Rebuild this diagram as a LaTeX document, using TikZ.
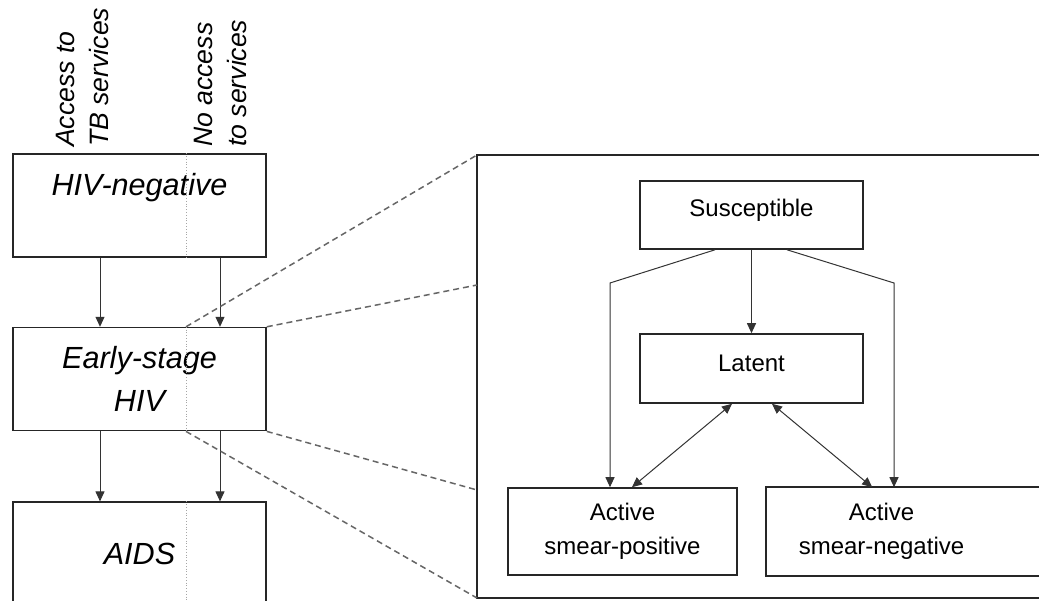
\documentclass[tikz,border=0pt]{standalone}
\usepackage{fontspec}
\setmainfont{Liberation Sans}
\usetikzlibrary{arrows.meta,calc,positioning}
\tikzstyle{stage}=[rectangle, draw=black!85, line width=1.6pt, minimum width=253pt, minimum height=103pt, inner sep=0pt, align=center, font=\fontsize{30.6}{43}\selectfont\itshape]
\tikzstyle{access}=[rotate=90, align=left, inner sep=0pt, anchor=west, font=\fontsize{26.6}{34}\selectfont\itshape]
\tikzstyle{tb}=[rectangle, draw=black!85, line width=1.6pt, inner sep=0pt, align=center, font=\fontsize{24}{34}\selectfont]
\tikzstyle{flow}=[draw=black!80, line width=1pt, ->]
\tikzstyle{divider}=[draw=gray!70, line width=0.8pt, dotted]
\tikzstyle{zoomline}=[draw=black!60, line width=1.5pt, dash pattern=on 6pt off 4pt]

\begin{document}
\begin{tikzpicture}[x=1pt, y=-1pt, >={Triangle[length=10pt,width=9pt]}]
      \useasboundingbox (0,0) rectangle (1039,601);
      %
      \coordinate (split) at (186,0);
      \coordinate (colA) at (100,0);
      \coordinate (colB) at (220,0);
      \node[access] (acc) at (82,147) {Access to\\TB services};
      \node[access] (noacc) at (220,147) {No access\\to services};
      %
      \node[stage] (hivneg) at (139.5,205.5) {HIV-negative\\~};
      \node[stage, below=69pt of hivneg] (early) {Early-stage\\HIV};
      \node[stage, below=70pt of early] (aids) {AIDS};
      \foreach \b in {hivneg,early,aids}
        \draw[divider] (\b.north -| split) -- (\b.south -| split);
      \foreach \c in {colA,colB} {
        \draw[flow] (hivneg.south -| \c) -- (early.north -| \c);
        \draw[flow] (early.south -| \c) -- (aids.north -| \c);
      }
      %
      \coordinate (zoomtl) at (477,155);
      \coordinate (zoomup) at (477,285);
      \coordinate (zoomdown) at (477,490);
      \coordinate (zoombl) at (477,598);
      \coordinate (zoombr) at (1070,598);
      \draw[black!85, line width=1.6pt] (zoomtl) rectangle (zoombr);
      \draw[zoomline] (early.north -| split) -- (zoomtl);
      \draw[zoomline] (early.north east) -- (zoomup);
      \draw[zoomline] (early.south east) -- (zoomdown);
      \draw[zoomline] (early.south -| split) -- (zoombl);
      %
      \node[tb, minimum width=223pt, text height=36pt, text depth=32pt] (sus) at (751.5,215) {Susceptible};
      \node[tb, minimum width=223pt, text height=38pt, text depth=31pt] (latent) at (751.5,368.5) {Latent};
      \node[tb, minimum width=229pt, minimum height=87pt] (pos) at (622.5,531.5) {Active\\smear-positive};
      \node[tb, draw=none, minimum width=229pt, minimum height=87pt] (neg) at (881.5,531.5) {Active\\smear-negative};
      \draw[black!85, line width=1.6pt] (neg.north west) rectangle ($(neg.south east)+(90,0)$);
      %
      \coordinate (lcol) at (610,283);
      \coordinate (rcol) at (894,283);
      \draw[flow] ($(sus.south)+(-36.5,0)$) -- (lcol) -- (pos.north -| lcol);
      \draw[flow] (sus.south) -- (latent.north);
      \draw[flow] ($(sus.south)+(35.5,0)$) -- (rcol) -- (neg.north -| rcol);
      \draw[flow, <->] ($(latent.south)+(-19.5,0)$) -- ($(pos.north)+(9.5,0)$);
      \draw[flow, <->] ($(latent.south)+(20.5,0)$) -- ($(neg.north west)+(106,0)$);
\end{tikzpicture}
\end{document}
